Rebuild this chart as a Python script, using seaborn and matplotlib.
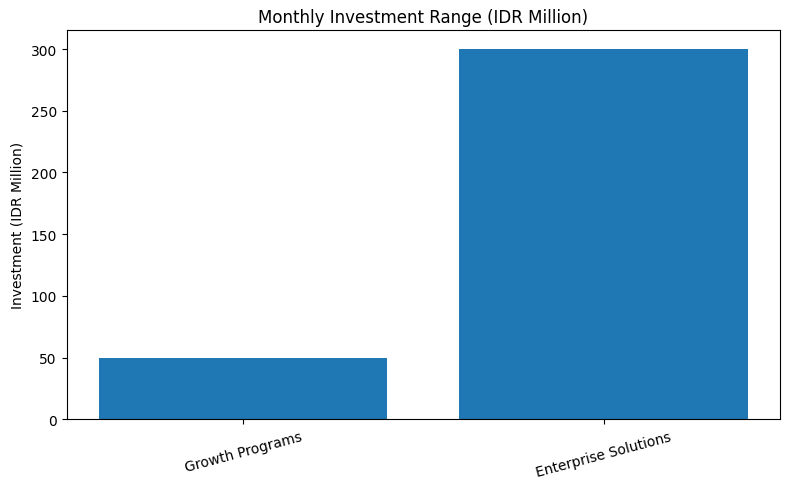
import matplotlib
matplotlib.use("Agg")
import matplotlib.pyplot as plt
import seaborn as sns
import pandas as pd

categories = ["Growth Programs", "Enterprise Solutions"]
investment = [50, 300]

df = pd.DataFrame({"category": categories, "investment": investment})

fig, ax = plt.subplots(figsize=(7.9, 4.89), dpi=100)
sns.barplot(data=df, x="category", y="investment", color="#1f77b4",
            saturation=1, width=0.8, ax=ax)
ax.set_xlim(-0.49, 1.49)
ax.set_title("Monthly Investment Range (IDR Million)")
ax.set_xlabel("")
ax.set_ylabel("Investment (IDR Million)")
plt.xticks(rotation=15)
fig.subplots_adjust(left=0.0842, right=0.9877, top=0.9356, bottom=0.1405)
plt.savefig("out.png", dpi=100)
